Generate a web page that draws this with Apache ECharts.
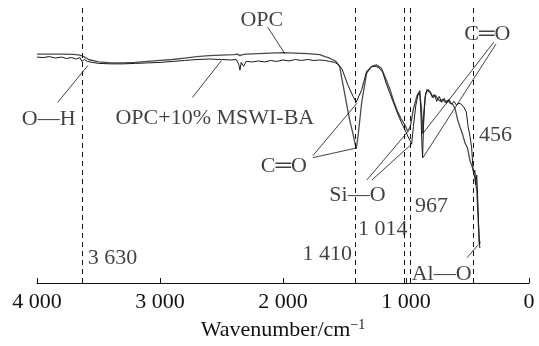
<!DOCTYPE html>
<html>
<head>
<meta charset="utf-8">
<script src="https://cdn.jsdelivr.net/npm/echarts@6/dist/echarts.min.js"></script>
<style>
html,body{margin:0;padding:0;background:#fff;}
#c{width:539px;height:346px;}
</style>
</head>
<body>
<div id="c"></div>
<script>
// Wavenumber (cm-1) and transmittance (arbitrary units)
const opcWn = [4000,3900,3800,3700,3650,3620,3580,3500,3400,3300,3200,3100,3000,2900,2800,2700,2600,2500,2400,2370,2350,2330,2300,2200,2100,2000,1900,1800,1750,1700,1660,1630,1600,1570,1540,1500,1460,1430,1405,1390,1360,1320,1280,1240,1200,1160,1130,1100,1070,1040,1010,985,965,940,910,890,875,866,855,840,820,800,780,760,740,720,700,680,660,640,620,600,580,560,540,520,500,480,460,445,435,425,415,405,400];
const opcT  = [235.5,235.5,235.5,235.3,234.5,233,230,227.5,226.5,226.5,227,228,229,230,231.5,233,234,234.5,235,235.5,234,235,235.5,236,236.5,237,236.5,236,235.5,235,233,232,230,228,223,196,169,153,138,151,186,216,223,224.5,221,209,199,187,177,169,163,156,161,179,193,196,181,154,176,195,199,196,191,193,189,187,189,186,188,185,184,179,168,160,153,144,139,126,119,111,113,96,71,41,36];

const mswiWn = [4000,3950,3900,3850,3800,3760,3720,3680,3650,3635,3625,3615,3590,3550,3500,3400,3300,3200,3100,3000,2900,2800,2700,2600,2500,2420,2380,2360,2350,2340,2320,2300,2250,2200,2150,2100,2050,2000,1950,1900,1850,1800,1750,1700,1660,1620,1580,1550,1520,1470,1430,1405,1390,1360,1320,1280,1250,1220,1190,1160,1130,1100,1070,1040,1010,985,965,954,940,920,900,887,878,870,865,858,845,830,815,800,785,770,750,730,710,690,670,650,630,610,590,570,550,530,510,495,480,466,456,448,440,432,425,418,410,402,398];
const mswiT  = [232.5,232,233,231.5,232.5,231,232,230.5,232,228,226,230,228,227,226,225.5,225.5,226,226.5,227,228,229,230,230.5,230,229.5,230,225,219,227,223,228,227.5,228.5,227.5,229,228,229.5,228.5,230,229,230,229,229.5,229,228,227,225,220,203,192,186,188,199,218,222.5,223,221.5,217,205,195,185,175,166,158,151,146,143,161,183,195,198,171,141,129,161,191,199,200,195,191,194,187,192,186,190,185,189,184,187,183,185,184,181,176,161,151,139,119,113,116,101,111,91,61,39,43];

const markedWn = [3630, 1410, 1014, 967, 456];
const tickLabels = ['0', '1 000', '2 000', '3 000', '4 000'];

// annotation texts: [wavenumber, value, text, align]
const annotations = [
  [2172, 270, 'OPC', 'center'],
  [2554, 170, 'OPC+10% MSWI-BA', 'center'],
  [3905, 169, 'O\u2014H', 'center'],
  [1993, 120, 'C\u2550O', 'center'],
  [338, 256, 'C\u2550O', 'center'],
  [1395, 90, 'Si\u2014O', 'center'],
  [710, 9, 'Al\u2014O', 'center'],
  [3587, 25, '3 630', 'left'],
  [1440, 30, '1 410', 'right'],
  [1391, 55, '1 014', 'left'],
  [927, 79, '967', 'left'],
  [407, 152, '456', 'left']
];
// pointer segments: [wn1, v1, wn2, v2]
const pointers = [
  [3831, 186, 3585, 224],
  [2123, 263, 1985, 236],
  [2736, 191, 2500, 229],
  [1757, 129, 1399, 139],
  [1757, 131, 1399, 185],
  [1318, 106, 984, 156],
  [1277, 106, 954, 143],
  [285, 248, 862, 154],
  [268, 246, 862, 129],
  [504, 26, 415, 39]
];

const FONT = '"Liberation Serif", "Times New Roman", serif';
const zip = (a, b) => a.map((v, i) => [v, b[i]]);

const chart = echarts.init(document.getElementById('c'), null, {renderer: 'canvas'});
chart.setOption({
  animation: false,
  backgroundColor: '#fff',
  grid: {left: 37, right: 10, top: 8, bottom: 55},
  xAxis: {
    type: 'value', inverse: true, min: 0, max: 4000, interval: 1000,
    axisLine: {lineStyle: {color: '#111', width: 1}},
    axisTick: {inside: true, length: 5, lineStyle: {color: '#111'}},
    splitLine: {show: false},
    axisLabel: {
      fontFamily: FONT, fontSize: 22, color: '#111', margin: 8,
      formatter: v => tickLabels[Math.round(v / 1000)]
    },
    name: '{a|Wavenumber/cm}{s|\u22121}',
    nameLocation: 'middle', nameGap: 35,
    nameTextStyle: {
      rich: {
        a: {fontFamily: FONT, fontSize: 22, color: '#111', lineHeight: 24},
        s: {fontFamily: FONT, fontSize: 14, color: '#111', verticalAlign: 'top', lineHeight: 24, padding: [0, 0, 8, 0]}
      }
    }
  },
  yAxis: {type: 'value', min: 0, max: 283, show: false},
  series: [
    {
      type: 'line', name: 'OPC', data: zip(opcWn, opcT), symbol: 'none',
      lineStyle: {color: '#4a4a4a', width: 1.3}, z: 3
    },
    {
      type: 'line', name: 'OPC+10% MSWI-BA', data: zip(mswiWn, mswiT), symbol: 'none',
      lineStyle: {color: '#1a1a1a', width: 1}, z: 4
    },
    {
      type: 'line', data: [], silent: true,
      markLine: {
        silent: true, symbol: 'none', animation: false,
        label: {show: false},
        lineStyle: {type: [5, 4], color: '#111', width: 1},
        data: markedWn.map(v => ({xAxis: v}))
      }
    },
    {
      type: 'line', data: [], silent: true,
      markLine: {
        silent: true, symbol: 'none', animation: false,
        label: {show: false},
        lineStyle: {type: 'solid', color: '#111', width: 0.8},
        data: pointers.map(p => [{coord: [p[0], p[1]]}, {coord: [p[2], p[3]]}])
      }
    },
    {
      type: 'scatter', symbolSize: 0, silent: true, z: 10,
      data: annotations.map(a => ({
        value: [a[0], a[1]],
        label: {
          show: true, position: 'inside', formatter: a[2], align: a[3], verticalAlign: 'middle',
          fontFamily: FONT, fontSize: 22, color: '#111'
        }
      }))
    }
  ]
});
</script>
</body>
</html>
